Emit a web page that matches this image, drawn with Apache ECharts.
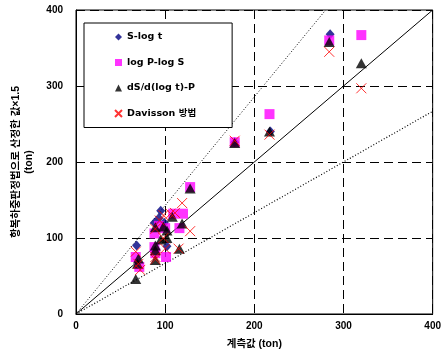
<!DOCTYPE html>
<html>
<head>
<meta charset="utf-8">
<script src="https://cdn.jsdelivr.net/npm/echarts@6/dist/echarts.min.js"></script>
<style>
  html, body { margin: 0; padding: 0; background: #fff; }
  #main { width: 444px; height: 356px; }
</style>
</head>
<body>
<div id="main"></div>
<script>
var seriesNames = ['S-log t', 'log P-log S', 'dS/d(log t)-P', 'Davisson 방법'];
var sLogT = [[68, 90], [88, 120], [93, 126], [95, 136], [99, 120], [102, 89], [178, 226], [218, 240], [285, 368]];
var logPlogS = [[67, 75], [71, 62], [89, 80], [88, 88], [88, 106], [93, 116], [100, 113], [101, 75], [109, 132], [116, 113], [120, 132], [128, 167], [178, 226], [217, 263], [284, 360], [320, 367]];
var dSdLogT = [[67, 46], [69, 66], [70, 73], [89, 71], [89, 84], [89, 90], [89, 114], [95, 98], [98, 115], [102, 100], [102, 110], [108, 128], [116, 86], [119, 119], [128, 165], [178, 225], [217, 240], [284, 358], [320, 330]];
var davisson = [[67, 82], [70, 66], [72, 58], [89, 72], [89, 75], [89, 112], [94, 123], [98, 100], [98, 130], [100, 86], [106, 132], [111, 133], [115, 86], [119, 146], [128, 109], [178, 228], [217, 236], [284, 345], [320, 297]];
// reference lines through the origin
var lineEqual = [[0, 0], [400, 400]];
var lineUpper = [[0, 0], [280, 400]];
var lineLower = [[0, 0], [400, 266.7]];
var tickMax = 400;

var chart = echarts.init(document.getElementById('main'), null, { renderer: 'canvas' });
var latin = 'Liberation Sans, Noto Sans CJK KR, sans-serif';

var option = {
  animation: false,
  backgroundColor: '#fff',
  grid: {
    left: 76, right: 6, top: 10, bottom: 42,
    show: true, borderColor: '#000', borderWidth: 1
  },
  legend: {
    orient: 'vertical',
    left: 84, top: 23,
    padding: [8, 36, 8, 30],
    itemGap: 13.5,
    itemWidth: 7, itemHeight: 7,
    backgroundColor: '#fff',
    borderColor: '#000', borderWidth: 1,
    data: seriesNames,
    textStyle: { fontFamily: 'DejaVu Sans, Noto Sans CJK KR', fontWeight: 'bold', fontSize: 9.5, lineHeight: 12, color: '#000' }
  },
  xAxis: {
    type: 'value', min: 0, max: tickMax, interval: 100,
    name: '계측값 (ton)', nameLocation: 'middle', nameGap: 25,
    nameTextStyle: { fontFamily: latin, fontWeight: 'bold', fontSize: 10.5, color: '#000' },
    axisLine: { lineStyle: { color: '#000', width: 1 } },
    axisTick: { show: false },
    axisLabel: { fontFamily: latin, fontWeight: 'bold', fontSize: 10, color: '#000', margin: 7 },
    splitLine: { show: true, lineStyle: { color: '#000', type: [9, 5], width: 1 } }
  },
  yAxis: {
    type: 'value', min: 0, max: tickMax, interval: 100,
    name: '항복하중판정법으로 산정한 값×1.5\n(ton)', nameLocation: 'middle', nameGap: 40,
    nameTextStyle: { fontFamily: latin, fontWeight: 'bold', fontSize: 10.5, color: '#000', lineHeight: 13 },
    axisLine: { lineStyle: { color: '#000', width: 1 } },
    axisTick: { show: false },
    axisLabel: { fontFamily: latin, fontWeight: 'bold', fontSize: 10, color: '#000', margin: 13 },
    splitLine: { show: true, lineStyle: { color: '#000', type: [9, 5], width: 1 } }
  },
  series: [
    {
      type: 'line', data: lineEqual, symbol: 'none', silent: true,
      lineStyle: { color: '#000', width: 1 }, z: 1
    },
    {
      type: 'line', data: lineUpper, symbol: 'none', silent: true,
      lineStyle: { color: '#000', width: 1, type: [1, 2] }, z: 1
    },
    {
      type: 'line', data: lineLower, symbol: 'none', silent: true,
      lineStyle: { color: '#000', width: 1.2, type: [1, 2] }, z: 1
    },
    {
      name: seriesNames[0], type: 'scatter', data: sLogT,
      symbol: 'diamond', symbolSize: [9, 10],
      itemStyle: { color: '#000080' }
    },
    {
      name: seriesNames[1], type: 'scatter', data: logPlogS,
      symbol: 'rect', symbolSize: 10,
      itemStyle: { color: '#ff00ff' }
    },
    {
      name: seriesNames[2], type: 'scatter', data: dSdLogT,
      symbol: 'triangle', symbolSize: [11, 10],
      itemStyle: { color: '#000' }
    },
    {
      name: seriesNames[3], type: 'scatter', data: davisson,
      symbol: 'path://M0,0L10,10M10,0L0,10', symbolSize: 10,
      itemStyle: { color: '#ff0000', borderColor: '#ff0000', borderWidth: 1 }
    }
  ]
};

chart.setOption(option);
</script>
</body>
</html>
